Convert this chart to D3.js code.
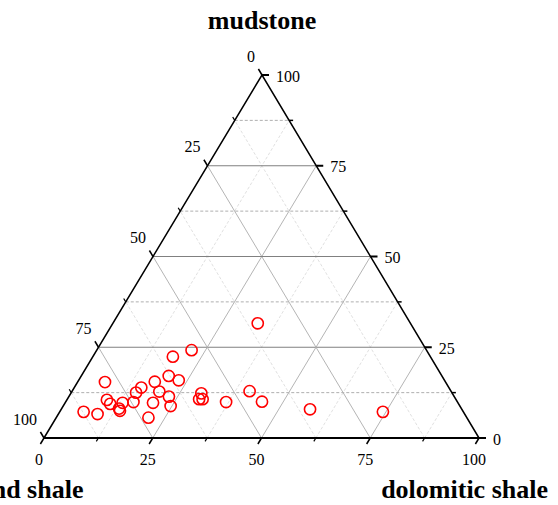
<!DOCTYPE html>
<html>
<head>
<meta charset="utf-8">
<script src="https://cdn.jsdelivr.net/npm/d3@7"></script>
<style>
  body { margin: 0; background: #fff; }
  svg { display: block; }
</style>
</head>
<body>
<div id="chart"></div>
<script>
// ternary data, percent (sand + dolomitic + mudstone = 100)
var sandShale      = [35.1, 54.0, 59.2, 78.3, 62.8, 61.1, 66.8, 70.7, 72.6, 67.1, 65.6, 57.7, 59.0, 58.2, 46.3, 53.2, 44.9, 34.9, 18.5, 87.3, 84.4, 80.3, 80.1, 77.1, 78.7, 78.8, 74.5, 70.1, 66.5, 73.2];
var dolomiticShale = [33.3, 21.8, 18.4, 6.3, 20.1, 23.0, 17.7, 15.4, 14.9, 20.1, 23.0, 30.0, 30.3, 31.1, 40.8, 36.9, 45.1, 57.2, 74.3, 5.5, 9.0, 9.2, 10.5, 13.2, 13.2, 13.7, 15.6, 20.2, 24.7, 21.2];
var mudstone       = [31.6, 24.2, 22.4, 15.4, 17.1, 15.9, 15.5, 13.9, 12.5, 12.8, 11.4, 12.3, 10.7, 10.7, 12.9, 9.9, 10.0, 7.9, 7.2, 7.2, 6.6, 10.5, 9.4, 9.7, 8.1, 7.5, 9.9, 9.7, 8.8, 5.6];

var majorTicks = [0, 25, 50, 75, 100];
var minorTicks = [12.5, 37.5, 62.5, 87.5];
var gridMajor = [25, 50, 75];

var width = 558, height = 505;
var L = [44, 438], R = [479, 438], T = [262, 75];

var svg = d3.select('#chart').append('svg')
  .attr('width', width)
  .attr('height', height);

// scales: mudstone -> y, dolomitic -> x along base, mudstone -> x shear
var yM = d3.scaleLinear().domain([0, 100]).range([L[1], T[1]]);
var xD = d3.scaleLinear().domain([0, 100]).range([L[0], R[0]]);
var xM = d3.scaleLinear().domain([0, 100]).range([0, T[0] - L[0]]);

function pt(d, m) {
  return [xD(d) + xM(m), yM(m)];
}

function unit(a, b) {
  var dx = b[0] - a[0], dy = b[1] - a[1];
  var n = Math.sqrt(dx * dx + dy * dy);
  return [dx / n, dy / n];
}

var gGrid = svg.append('g');

function gridLines(vals, styleFn) {
  vals.forEach(function (v) {
    // mudstone const (horizontal)
    styleFn(gGrid.append('line'), pt(0, v), pt(100 - v, v), 'h');
    // dolomitic const
    styleFn(gGrid.append('line'), pt(v, 0), pt(v, 100 - v), 's');
    // sand const
    styleFn(gGrid.append('line'), pt(100 - v, 0), pt(0, 100 - v), 's');
  });
}

gridLines(minorTicks, function (sel, a, b, kind) {
  sel.attr('x1', a[0]).attr('y1', a[1]).attr('x2', b[0]).attr('y2', b[1])
    .attr('stroke', kind == 'h' ? '#9a9a9a' : '#d8d8d8')
    .attr('stroke-width', 0.8)
    .attr('stroke-dasharray', '3,2');
});
gridLines(gridMajor, function (sel, a, b, kind) {
  sel.attr('x1', a[0]).attr('y1', a[1]).attr('x2', b[0]).attr('y2', b[1])
    .attr('stroke', kind == 'h' ? '#808080' : '#ababab')
    .attr('stroke-width', kind == 'h' ? 1.1 : 0.9);
});

// axes
var gAxis = svg.append('g');
gAxis.append('path')
  .attr('d', 'M' + L + 'L' + T + 'L' + R)
  .attr('fill', 'none')
  .attr('stroke', '#000')
  .attr('stroke-width', 1.5);
gAxis.append('line')
  .attr('x1', L[0]).attr('y1', L[1]).attr('x2', R[0]).attr('y2', R[1])
  .attr('stroke', '#000')
  .attr('stroke-width', 2.2);

var dirLeft = unit(R, T);   // ticks on sand axis, parallel to right edge
var dirRight = [1, 0];      // ticks on mudstone axis
var dirBottom = unit(T, L); // ticks on dolomitic axis, parallel to left edge

function tick(p, dir, len, w) {
  gAxis.append('line')
    .attr('x1', p[0]).attr('y1', p[1])
    .attr('x2', p[0] + dir[0] * len).attr('y2', p[1] + dir[1] * len)
    .attr('stroke', '#000')
    .attr('stroke-width', w);
}

majorTicks.forEach(function (v) {
  tick(pt(0, 100 - v), dirLeft, 7, 1.5);
  tick(pt(100 - v, v), dirRight, 7, 2);
  tick(pt(v, 0), dirBottom, 7, 1.5);
});
minorTicks.forEach(function (v) {
  tick(pt(0, 100 - v), dirLeft, 4, 1.2);
  tick(pt(100 - v, v), dirRight, 4, 1.5);
  tick(pt(v, 0), dirBottom, 4, 1.2);
});

var labelFont = '"Liberation Serif", "Times New Roman", serif';

var gLab = svg.append('g')
  .attr('font-family', labelFont)
  .attr('font-size', 16)
  .attr('fill', '#000');

majorTicks.forEach(function (v) {
  var p = pt(0, 100 - v);
  gLab.append('text')
    .attr('x', p[0] - 7).attr('y', p[1] - 19)
    .attr('text-anchor', 'end')
    .attr('dominant-baseline', 'central')
    .text(v);
  p = pt(100 - v, v);
  gLab.append('text')
    .attr('x', p[0] + 14).attr('y', p[1] + 1)
    .attr('text-anchor', 'start')
    .attr('dominant-baseline', 'central')
    .text(v);
  p = pt(v, 0);
  gLab.append('text')
    .attr('x', p[0] - 5).attr('y', p[1] + 21)
    .attr('text-anchor', 'middle')
    .attr('dominant-baseline', 'central')
    .text(v);
});

// titles
var gTitle = svg.append('g')
  .attr('font-family', labelFont)
  .attr('font-size', 26)
  .attr('font-weight', 'bold')
  .attr('fill', '#000');
gTitle.append('text').attr('x', 262).attr('y', 29).attr('text-anchor', 'middle').text('mudstone');
gTitle.append('text').attr('x', 26).attr('y', 498).attr('text-anchor', 'middle').text('sand shale');
gTitle.append('text').attr('x', 548).attr('y', 498).attr('text-anchor', 'end').text('dolomitic shale');

// points
svg.append('g').selectAll('circle')
  .data(mudstone.map(function (m, i) { return { s: sandShale[i], d: dolomiticShale[i], m: m }; }))
  .enter().append('circle')
  .attr('cx', function (o) { return pt(o.d, o.m)[0]; })
  .attr('cy', function (o) { return pt(o.d, o.m)[1]; })
  .attr('r', 5.6)
  .attr('fill', 'none')
  .attr('stroke', '#ff0000')
  .attr('stroke-width', 1.6);
</script>
</body>
</html>
